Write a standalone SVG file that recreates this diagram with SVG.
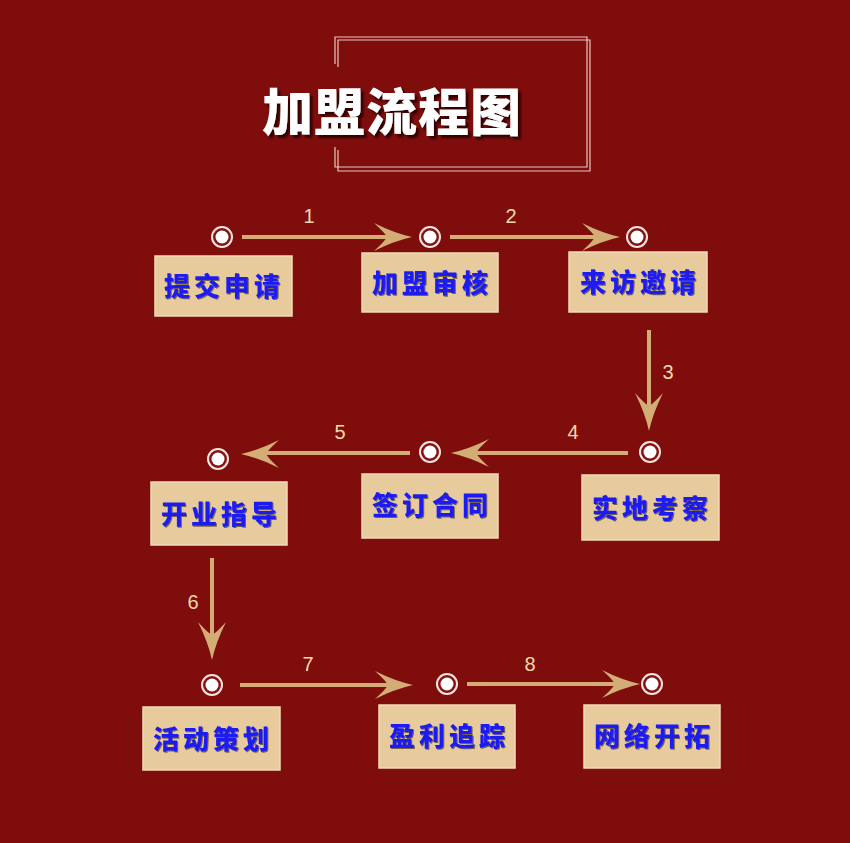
<svg xmlns="http://www.w3.org/2000/svg" width="850" height="843" viewBox="0 0 850 843">
<defs>
<style>
.bg{fill:#7e0d0c}
.frame{fill:none;stroke:#e8c8c0;stroke-width:1.2}
.title{font-family:"Noto Sans CJK SC",sans-serif;font-weight:900;font-size:51px;fill:#ffffff;letter-spacing:1px}
.box{fill:#e8cb9d;stroke:#f2dcb8;stroke-width:1.5}
.lbl{font-family:"Noto Sans CJK SC",sans-serif;font-weight:900;font-size:26px;fill:#1a1af0;text-anchor:middle;letter-spacing:4px}
.ring{fill:#8a1010;stroke:#f4e6e0;stroke-width:2}
.dot{fill:#ffffff}
.line{stroke:#d3ad75;stroke-width:4;fill:none}
.head{fill:#d3ad75}
.num{font-family:"Liberation Sans",Arial,sans-serif;font-size:20px;fill:#f0d9a8;text-anchor:middle}
</style>
<filter id="ts" x="-10%" y="-20%" width="130%" height="150%">
<feDropShadow dx="3" dy="3" stdDeviation="1" flood-color="#2a0202" flood-opacity="0.9"/>
</filter>
<filter id="ls" x="-10%" y="-20%" width="130%" height="150%">
<feDropShadow dx="1" dy="1" stdDeviation="0.6" flood-color="#5a4a30" flood-opacity="0.8"/>
</filter>
<path id="ah" d="M0,0 Q-18,-4 -38,-14 Q-27,-4 -25,0 Q-27,4 -38,14 Q-18,4 0,0 Z"/>
</defs>
<rect class="bg" x="0" y="0" width="850" height="843"/>
<g id="title">
<path class="frame" d="M335,64 V37 H587 V167 H335 V147"/>
<path class="frame" d="M338,67 V40 H590 V171 H338 V150"/>
<text class="title" x="262" y="131" filter="url(#ts)">加盟流程图</text>
</g>
<g id="connectors">
<line class="line" x1="242" y1="237" x2="395" y2="237"/>
<use href="#ah" class="head" transform="translate(412,237)"/>
<text class="num" x="309" y="223">1</text>
<line class="line" x1="450" y1="237" x2="603" y2="237"/>
<use href="#ah" class="head" transform="translate(620,237)"/>
<text class="num" x="511" y="223">2</text>
<line class="line" x1="649" y1="330" x2="649" y2="414"/>
<use href="#ah" class="head" transform="translate(649,431) rotate(90)"/>
<text class="num" x="668" y="379">3</text>
<line class="line" x1="628" y1="453" x2="468" y2="453"/>
<use href="#ah" class="head" transform="translate(451,453) rotate(180)"/>
<text class="num" x="573" y="439">4</text>
<line class="line" x1="410" y1="453" x2="258" y2="453"/>
<use href="#ah" class="head" transform="translate(241,454) rotate(180)"/>
<text class="num" x="340" y="439">5</text>
<line class="line" x1="212" y1="558" x2="212" y2="643"/>
<use href="#ah" class="head" transform="translate(212,660) rotate(90)"/>
<text class="num" x="193" y="609">6</text>
<line class="line" x1="240" y1="685" x2="396" y2="685"/>
<use href="#ah" class="head" transform="translate(413,685)"/>
<text class="num" x="308" y="671">7</text>
<line class="line" x1="467" y1="684" x2="623" y2="684"/>
<use href="#ah" class="head" transform="translate(640,684)"/>
<text class="num" x="530" y="671">8</text>
</g>
<g id="n1"><circle class="ring" cx="222" cy="237" r="10"/><circle class="dot" cx="222" cy="237" r="6.5"/>
<rect class="box" x="155" y="256" width="137" height="60"/><text class="lbl" x="224" y="296" filter="url(#ls)">提交申请</text></g>
<g id="n2"><circle class="ring" cx="430" cy="237" r="10"/><circle class="dot" cx="430" cy="237" r="6.5"/>
<rect class="box" x="362" y="253" width="136" height="59"/><text class="lbl" x="432" y="293" filter="url(#ls)">加盟审核</text></g>
<g id="n3"><circle class="ring" cx="637" cy="237" r="10"/><circle class="dot" cx="637" cy="237" r="6.5"/>
<rect class="box" x="569" y="252" width="138" height="60"/><text class="lbl" x="640" y="292" filter="url(#ls)">来访邀请</text></g>
<g id="n4"><circle class="ring" cx="650" cy="452" r="10"/><circle class="dot" cx="650" cy="452" r="6.5"/>
<rect class="box" x="582" y="475" width="137" height="65"/><text class="lbl" x="652" y="518" filter="url(#ls)">实地考察</text></g>
<g id="n5"><circle class="ring" cx="430" cy="452" r="10"/><circle class="dot" cx="430" cy="452" r="6.5"/>
<rect class="box" x="362" y="474" width="136" height="64"/><text class="lbl" x="432" y="515" filter="url(#ls)">签订合同</text></g>
<g id="n6"><circle class="ring" cx="218" cy="459" r="10"/><circle class="dot" cx="218" cy="459" r="6.5"/>
<rect class="box" x="151" y="482" width="136" height="63"/><text class="lbl" x="221" y="524" filter="url(#ls)">开业指导</text></g>
<g id="n7"><circle class="ring" cx="212" cy="685" r="10"/><circle class="dot" cx="212" cy="685" r="6.5"/>
<rect class="box" x="143" y="707" width="137" height="63"/><text class="lbl" x="213" y="749" filter="url(#ls)">活动策划</text></g>
<g id="n8"><circle class="ring" cx="447" cy="684" r="10"/><circle class="dot" cx="447" cy="684" r="6.5"/>
<rect class="box" x="379" y="705" width="136" height="63"/><text class="lbl" x="449" y="746" filter="url(#ls)">盈利追踪</text></g>
<g id="n9"><circle class="ring" cx="652" cy="684" r="10"/><circle class="dot" cx="652" cy="684" r="6.5"/>
<rect class="box" x="584" y="705" width="136" height="63"/><text class="lbl" x="654" y="746" filter="url(#ls)">网络开拓</text></g>
</svg>
